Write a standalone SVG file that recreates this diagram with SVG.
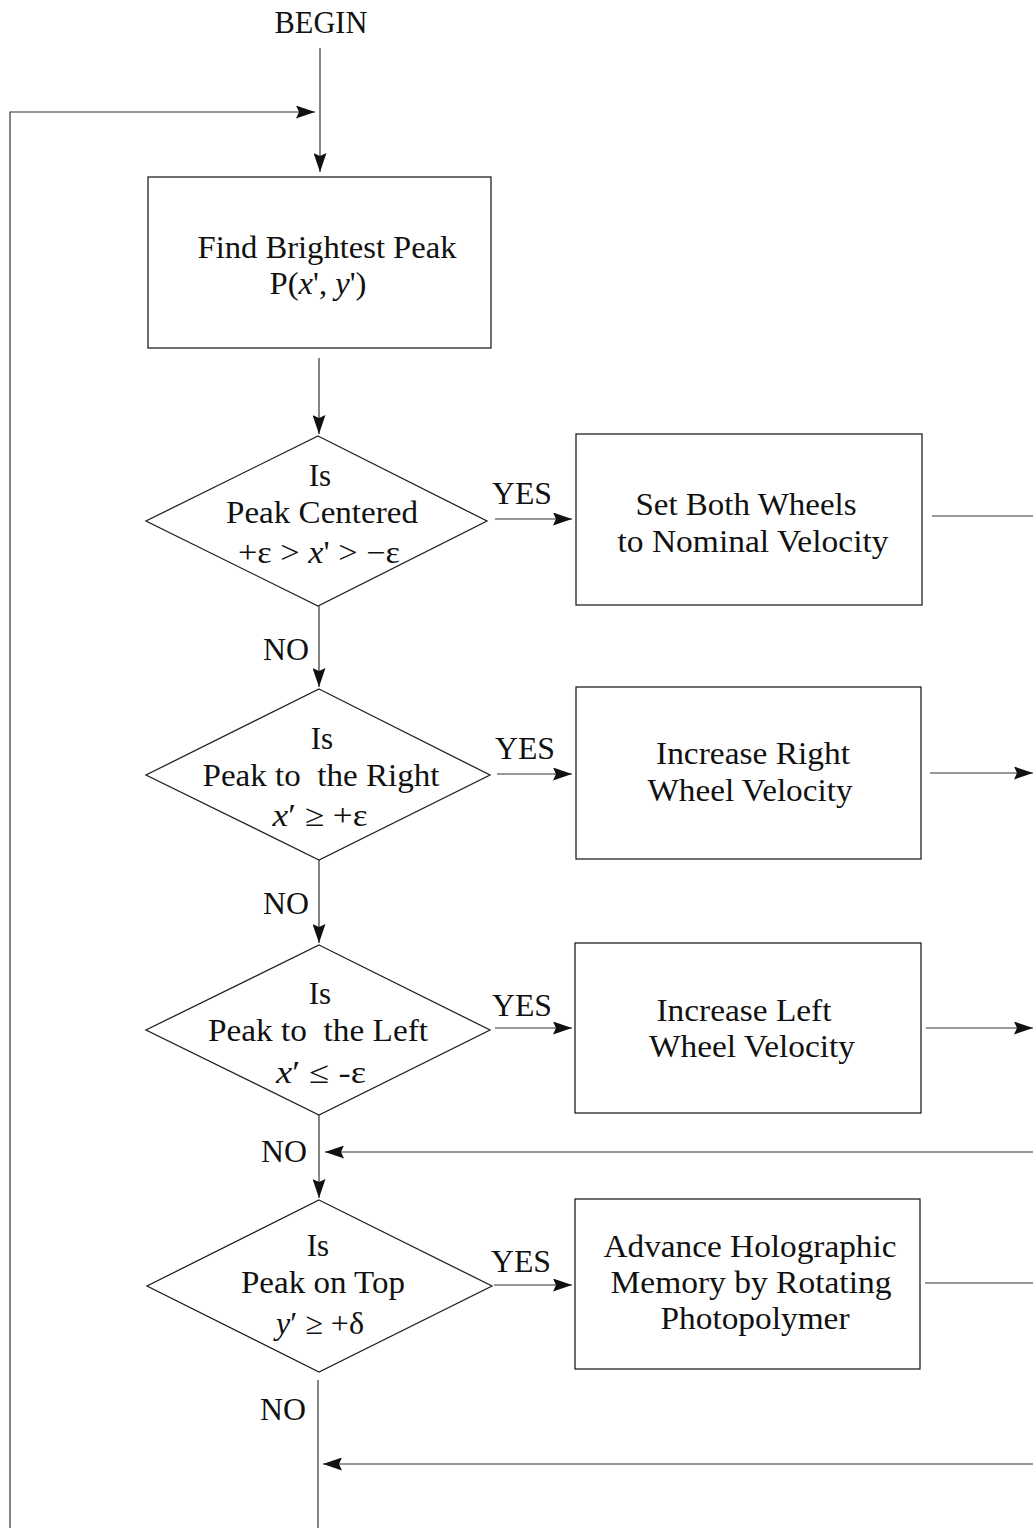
<svg xmlns="http://www.w3.org/2000/svg" width="1033" height="1528" viewBox="0 0 1033 1528">
  <style>
    .shape { fill: none; stroke: #222; stroke-width: 1.3; }
    .wire { fill: none; stroke: #333; stroke-width: 1.2; }
    text { font-family: "Liberation Serif", "Times New Roman", serif; font-size: 31px; fill: #111; text-anchor: middle; white-space: pre; }
    .it { font-style: italic; }
  </style>
  <defs>
    <marker id="arrow" markerUnits="userSpaceOnUse" markerWidth="19" markerHeight="13" refX="19" refY="6.5" orient="auto">
      <path d="M0,0 L19,6.5 L0,13 L3,6.5 z" fill="#111"/>
    </marker>
  </defs>
  <rect width="1033" height="1528" fill="#fff"/>

  <!-- start label -->
  <g id="begin">
    <text x="321" y="33" textLength="93" lengthAdjust="spacingAndGlyphs">BEGIN</text>
  </g>

  <!-- process boxes -->
  <g id="find-peak">
    <rect class="shape" x="148" y="177" width="343" height="171"/>
    <text x="327" y="258" textLength="259" lengthAdjust="spacingAndGlyphs">Find Brightest Peak</text>
    <text x="318" y="294" textLength="97" lengthAdjust="spacingAndGlyphs">P(<tspan class="it">x</tspan>', <tspan class="it">y</tspan>')</text>
  </g>

  <g id="nominal-velocity">
    <rect class="shape" x="576" y="434" width="346" height="171"/>
    <text x="746" y="515" textLength="221" lengthAdjust="spacingAndGlyphs">Set Both Wheels</text>
    <text x="753" y="552" textLength="271" lengthAdjust="spacingAndGlyphs">to Nominal Velocity</text>
  </g>

  <g id="right-wheel">
    <rect class="shape" x="576" y="687" width="345" height="172"/>
    <text x="753" y="764" textLength="194" lengthAdjust="spacingAndGlyphs">Increase Right</text>
    <text x="750" y="801" textLength="205" lengthAdjust="spacingAndGlyphs">Wheel Velocity</text>
  </g>

  <g id="left-wheel">
    <rect class="shape" x="575" y="943" width="346" height="170"/>
    <text x="744" y="1021" textLength="175" lengthAdjust="spacingAndGlyphs">Increase Left</text>
    <text x="752" y="1057" textLength="206" lengthAdjust="spacingAndGlyphs">Wheel Velocity</text>
  </g>

  <g id="advance-memory">
    <rect class="shape" x="575" y="1199" width="345" height="170"/>
    <text x="750" y="1257" textLength="293" lengthAdjust="spacingAndGlyphs">Advance Holographic</text>
    <text x="751" y="1293" textLength="281" lengthAdjust="spacingAndGlyphs">Memory by Rotating</text>
    <text x="755" y="1329" textLength="189" lengthAdjust="spacingAndGlyphs">Photopolymer</text>
  </g>

  <!-- decisions -->
  <g id="is-centered">
    <polygon class="shape" points="318,436 487,521 318,606 146,521"/>
    <text x="320" y="486">Is</text>
    <text x="322" y="523" textLength="192" lengthAdjust="spacingAndGlyphs">Peak Centered</text>
    <text x="319" y="563" textLength="162" lengthAdjust="spacingAndGlyphs">+ε &gt; <tspan class="it">x</tspan>' &gt; −ε</text>
  </g>

  <g id="is-right">
    <polygon class="shape" points="319,689 490,775 319,860 146,775"/>
    <text x="322" y="749">Is</text>
    <text x="321" y="786" textLength="237" lengthAdjust="spacingAndGlyphs" xml:space="preserve">Peak to  the Right</text>
    <text x="320" y="826" textLength="95" lengthAdjust="spacingAndGlyphs"><tspan class="it">x</tspan>′ ≥ +ε</text>
  </g>

  <g id="is-left">
    <polygon class="shape" points="319,945 490,1030 319,1115 146,1030"/>
    <text x="320" y="1004">Is</text>
    <text x="318" y="1041" textLength="220" lengthAdjust="spacingAndGlyphs" xml:space="preserve">Peak to  the Left</text>
    <text x="321" y="1083" textLength="90" lengthAdjust="spacingAndGlyphs"><tspan class="it">x</tspan>′ ≤ -ε</text>
  </g>

  <g id="is-top">
    <polygon class="shape" points="319,1200 492,1286 319,1372 147,1286"/>
    <text x="318" y="1256">Is</text>
    <text x="323" y="1293" textLength="164" lengthAdjust="spacingAndGlyphs">Peak on Top</text>
    <text x="320" y="1334" textLength="88" lengthAdjust="spacingAndGlyphs"><tspan class="it">y</tspan>′ ≥ +δ</text>
  </g>

  <!-- connectors -->
  <g id="connectors">
    <line class="wire" x1="320" y1="48" x2="320" y2="172" marker-end="url(#arrow)"/>
    <polyline class="wire" points="10,1528 10,112 315,112" marker-end="url(#arrow)"/>
    <line class="wire" x1="319" y1="358" x2="319" y2="434" marker-end="url(#arrow)"/>
    <line class="wire" x1="319" y1="606" x2="319" y2="687" marker-end="url(#arrow)"/>
    <line class="wire" x1="319" y1="860" x2="319" y2="943" marker-end="url(#arrow)"/>
    <line class="wire" x1="319" y1="1115" x2="319" y2="1198" marker-end="url(#arrow)"/>
    <line class="wire" x1="318" y1="1380" x2="318" y2="1528"/>

    <line class="wire" x1="495" y1="519" x2="572" y2="519" marker-end="url(#arrow)"/>
    <line class="wire" x1="497" y1="774" x2="572" y2="774" marker-end="url(#arrow)"/>
    <line class="wire" x1="495" y1="1028" x2="572" y2="1028" marker-end="url(#arrow)"/>
    <line class="wire" x1="494" y1="1285" x2="572" y2="1285" marker-end="url(#arrow)"/>

    <line class="wire" x1="932" y1="516" x2="1033" y2="516"/>
    <line class="wire" x1="930" y1="773" x2="1033" y2="773" marker-end="url(#arrow)"/>
    <line class="wire" x1="926" y1="1028" x2="1033" y2="1028" marker-end="url(#arrow)"/>
    <line class="wire" x1="925" y1="1283" x2="1033" y2="1283"/>

    <line class="wire" x1="1033" y1="1152" x2="325" y2="1152" marker-end="url(#arrow)"/>
    <line class="wire" x1="1033" y1="1464" x2="323" y2="1464" marker-end="url(#arrow)"/>

    <text x="522" y="504" textLength="60" lengthAdjust="spacingAndGlyphs">YES</text>
    <text x="525" y="759" textLength="60" lengthAdjust="spacingAndGlyphs">YES</text>
    <text x="522" y="1016" textLength="60" lengthAdjust="spacingAndGlyphs">YES</text>
    <text x="521" y="1272" textLength="60" lengthAdjust="spacingAndGlyphs">YES</text>

    <text x="286" y="660" textLength="46" lengthAdjust="spacingAndGlyphs">NO</text>
    <text x="286" y="914" textLength="46" lengthAdjust="spacingAndGlyphs">NO</text>
    <text x="284" y="1162" textLength="46" lengthAdjust="spacingAndGlyphs">NO</text>
    <text x="283" y="1420" textLength="46" lengthAdjust="spacingAndGlyphs">NO</text>
  </g>
</svg>
